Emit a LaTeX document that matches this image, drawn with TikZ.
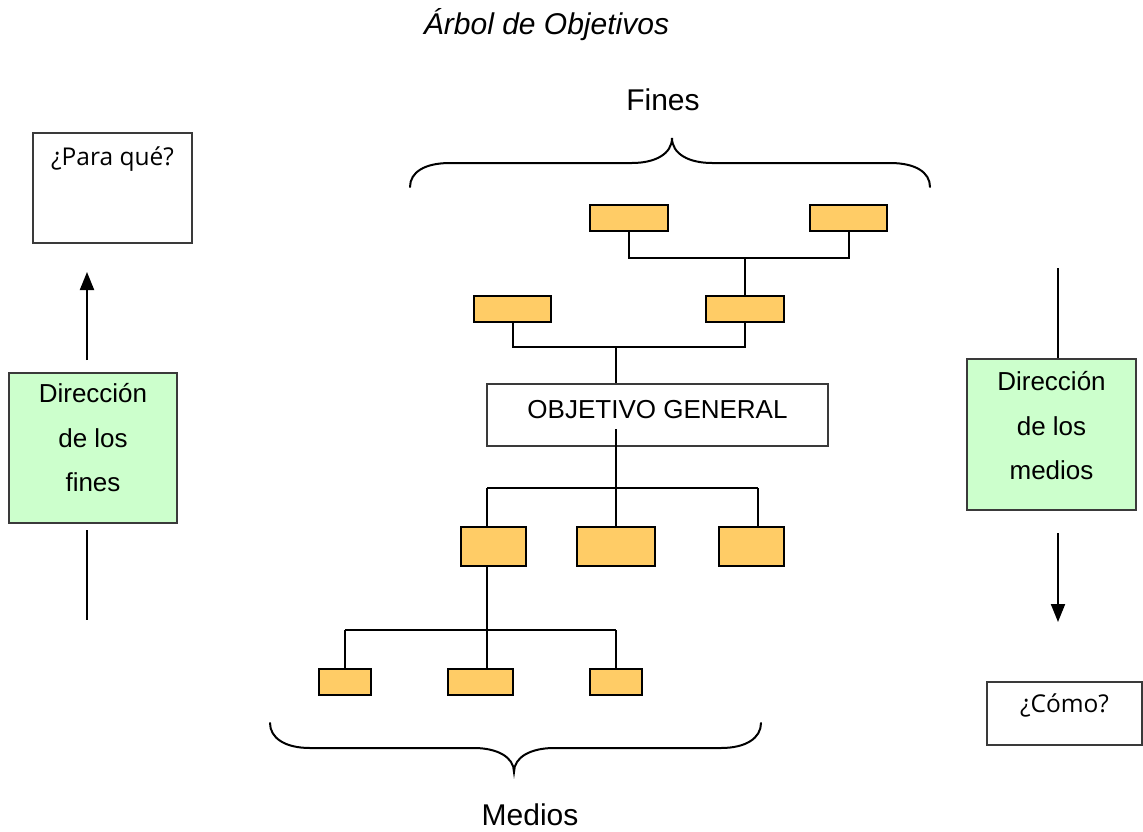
\documentclass[tikz,border=0pt]{standalone}
\usepackage{fontspec}
\setmainfont{Liberation Sans}
\newfontfamily\uifont{Open Sans}
\usetikzlibrary{arrows.meta}
\definecolor{leafbox}{HTML}{FFCC66}
\definecolor{dirbox}{HTML}{CCFFCC}
\definecolor{framegray}{HTML}{3A3A3A}

\begin{document}
\begin{tikzpicture}[x=1pt,y=-1pt,
  leaf/.style n args={2}{draw=black,fill=leafbox,line width=2.2pt,
    minimum width=#1,minimum height=#2,inner sep=0pt},
  plainbox/.style={draw=framegray,line width=1.2pt,inner sep=0pt},
  askbox/.style={plainbox,font=\uifont\fontsize{24.5}{30}\selectfont},
  dirstyle/.style={plainbox,fill=dirbox,align=center,
    font=\fontsize{26}{44.5}\selectfont},
  wire/.style={line width=2pt},
  brace/.style={line width=2pt,line cap=round},
  upright/.style={-{Triangle[width=14pt,length=18pt]}}
]
\useasboundingbox (0,0) rectangle (1143,832);

% headings
\node[font=\fontsize{30}{36}\selectfont\itshape,anchor=base] (title) at (546.5,35) {Árbol de Objetivos};
\node[font=\fontsize{30}{36}\selectfont,anchor=base] (fines) at (663,111) {Fines};
\node[font=\fontsize{30}{36}\selectfont,anchor=base] (medios) at (530,825) {Medios};

% curly braces
\draw[brace] (410,187) .. controls (410,172) and (425,163) .. (450,163) -- (632,163)
  .. controls (655,163) and (672,154) .. (672,138)
  .. controls (672,154) and (689,163) .. (712,163) -- (890,163)
  .. controls (915,163) and (930,172) .. (930,187);
\draw[brace] (270,723) .. controls (270,738) and (285,748) .. (310,748) -- (474,748)
  .. controls (497,748) and (514,757) .. (514,772)
  .. controls (514,757) and (531,748) .. (554,748) -- (721,748)
  .. controls (746,748) and (761,738) .. (761,723);

% tree boxes
\node[leaf={78pt}{26pt}] (a1) at (629,218) {};
\node[leaf={77pt}{26pt}] (a2) at (848.5,218) {};
\node[leaf={77pt}{26pt}] (b1) at (512.5,309) {};
\node[leaf={78pt}{26pt}] (b2) at (745,309) {};
\node[plainbox,minimum width=341pt,minimum height=62pt,text height=19pt,text depth=13pt,
  font=\fontsize{26}{30}\selectfont] (og) at (657.5,415) {OBJETIVO GENERAL};
\node[leaf={65pt}{39pt}] (c1) at (493.5,546.5) {};
\node[leaf={78pt}{39pt}] (c2) at (616,546.5) {};
\node[leaf={65pt}{39pt}] (c3) at (751.5,546.5) {};
\node[leaf={52pt}{26pt}] (d1) at (345,682) {};
\node[leaf={65pt}{26pt}] (d2) at (480.5,682) {};
\node[leaf={52pt}{26pt}] (d3) at (616,682) {};

% tree connectors
\coordinate (j1) at (745,258);
\draw[wire] (a1.south) |- (j1) -| (a2.south);
\draw[wire] (j1) -- (b2.north);
\coordinate (j2) at (616,347);
\draw[wire] (b1.south) |- (j2) -| (b2.south);
\draw[wire] (j2) -- (j2 |- og.north);
\coordinate (ogstem) at (616,429);
\coordinate (j3) at (616,488);
\coordinate (j3l) at (487,488);
\coordinate (j3r) at (758,488);
\draw[wire] (ogstem) -- (j3);
\draw[wire] (j3l) -- (j3r);
\draw[wire] (j3l) -- (j3l |- c1.north);
\draw[wire] (j3) -- (c2.north);
\draw[wire] (j3r) -- (j3r |- c3.north);
\coordinate (j4) at (487,630);
\coordinate (j4l) at (345,630);
\coordinate (j4r) at (616,630);
\draw[wire] (j4 |- c1.south) -- (j4);
\draw[wire] (j4l) -- (j4r);
\draw[wire] (j4l) -- (d1.north);
\draw[wire] (j4) -- (j4 |- d2.north);
\draw[wire] (j4r) -- (d3.north);

% left column: towards the ends
\node[askbox,minimum width=159pt,minimum height=110pt,text height=18pt,text depth=64pt]
  (para) at (112.5,188) {¿Para qué?};
\node[dirstyle,minimum width=168pt,minimum height=150pt,text depth=21pt]
  (dirf) at (93,448) {Dirección\\de los\\fines};
\coordinate (fup1) at (87,360);
\coordinate (fup2) at (87,272);
\coordinate (flo1) at (87,530);
\coordinate (flo2) at (87,620);
\draw[wire,upright] (fup1) -- (fup2);
\draw[wire] (flo1) -- (flo2);

% right column: towards the means
\node[dirstyle,minimum width=169pt,minimum height=151pt,text depth=18pt]
  (dirm) at (1051.5,434.5) {Dirección\\de los\\medios};
\node[askbox,minimum width=155pt,minimum height=63pt,text height=18pt,text depth=21pt]
  (como) at (1064.5,713.5) {¿Cómo?};
\coordinate (mtop) at (1058,268);
\coordinate (mdn1) at (1058,533);
\coordinate (mdn2) at (1058,622);
\draw[wire] (mtop) -- (mtop |- dirm.north);
\draw[wire,upright] (mdn1) -- (mdn2);
\end{tikzpicture}
\end{document}
